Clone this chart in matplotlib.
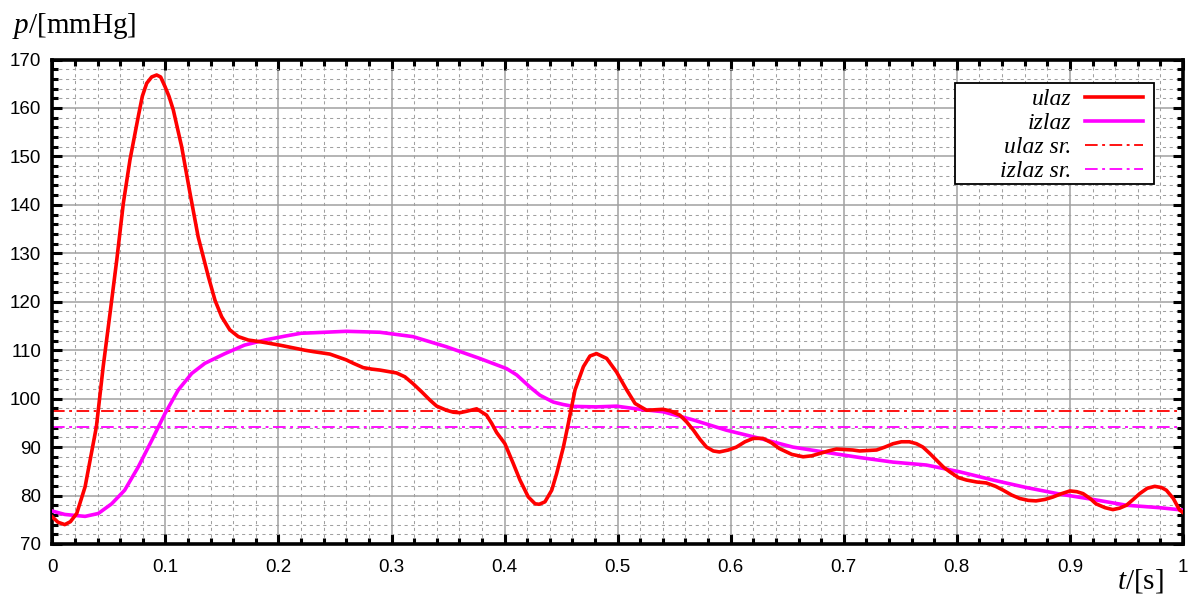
import matplotlib
matplotlib.use("Agg")
import matplotlib.pyplot as plt
from matplotlib.ticker import MultipleLocator, FixedLocator
from matplotlib.font_manager import FontProperties
from matplotlib.patches import Rectangle

# ---- data ----
t_ulaz = [0.000, 0.005, 0.011, 0.016, 0.0216, 0.029, 0.039, 0.045, 0.051, 0.057,
          0.0628, 0.0687, 0.076, 0.0796, 0.0835, 0.0879, 0.0923, 0.0958, 0.0997, 0.1032,
          0.107, 0.1144, 0.1218, 0.129, 0.138, 0.1439, 0.1498, 0.157, 0.1645, 0.1733,
          0.185, 0.201, 0.2234, 0.231, 0.2455, 0.26, 0.2662, 0.275, 0.2825, 0.2897,
          0.3045, 0.3119, 0.319, 0.3267, 0.334, 0.34, 0.3487, 0.3547, 0.3605, 0.3665,
          0.3753, 0.384, 0.3886, 0.393, 0.4003, 0.4077, 0.4136, 0.421, 0.427, 0.4306,
          0.4357, 0.4417, 0.446, 0.452, 0.4564, 0.4623, 0.4697, 0.4755, 0.4813, 0.4903,
          0.499, 0.508, 0.5154, 0.5257, 0.54, 0.5463, 0.555, 0.561, 0.567, 0.5728,
          0.5786, 0.5846, 0.59, 0.5979, 0.605, 0.6126, 0.62, 0.6284, 0.636, 0.643,
          0.654, 0.664, 0.6716, 0.6788, 0.6863, 0.6935, 0.708, 0.714, 0.729, 0.7363,
          0.7436, 0.751, 0.758, 0.7643, 0.77, 0.776, 0.782, 0.788, 0.7937, 0.8014,
          0.8085, 0.8175, 0.826, 0.8343, 0.841, 0.8485, 0.8556, 0.8632, 0.870, 0.878,
          0.885, 0.8927, 0.9, 0.906, 0.9116, 0.9178, 0.923, 0.931, 0.938, 0.944,
          0.95, 0.956, 0.9617, 0.9684, 0.975, 0.981, 0.9853, 0.9914, 0.997, 1.0]
p_ulaz = [75.6, 74.5, 74.0, 74.6, 76.3, 81.8, 94.2, 106.6, 117.5, 128.6,
          140.3, 149.3, 158.2, 162.4, 165.1, 166.4, 166.8, 166.4, 164.4, 162.4,
          159.6, 152.0, 142.4, 133.4, 125.2, 120.3, 116.9, 114.2, 112.8, 112.1,
          111.7, 111.05, 110.0, 109.7, 109.2, 108.0, 107.3, 106.4, 106.1, 105.9,
          105.3, 104.5, 103.1, 101.4, 99.7, 98.45, 97.6, 97.2, 97.1, 97.4,
          97.9, 96.6, 94.9, 93.0, 90.7, 86.6, 83.2, 79.7, 78.3, 78.2,
          78.7, 81.1, 84.5, 90.0, 94.9, 101.8, 106.6, 108.8, 109.3, 108.3,
          105.5, 101.8, 99.0, 97.6, 97.8, 97.5, 96.6, 95.2, 93.5, 91.6,
          90.0, 89.2, 89.0, 89.4, 90.0, 91.1, 91.8, 91.8, 90.9, 89.7,
          88.5, 88.0, 88.2, 88.7, 89.2, 89.6, 89.4, 89.2, 89.4, 90.0,
          90.7, 91.1, 91.1, 90.7, 90.0, 88.7, 87.3, 85.9, 84.9, 83.7,
          83.2, 82.8, 82.6, 81.9, 81.1, 80.1, 79.4, 79.0, 78.9, 79.2,
          79.7, 80.4, 80.95, 80.8, 80.4, 79.4, 78.3, 77.5, 77.1, 77.4,
          78.0, 79.2, 80.4, 81.5, 81.9, 81.65, 81.1, 79.4, 77.0, 76.5]

t_izlaz = [0.0, 0.011, 0.029, 0.0407, 0.0525, 0.064, 0.076, 0.088, 0.0996, 0.1114,
           0.1233, 0.135, 0.1527, 0.170, 0.188, 0.2057, 0.22, 0.231, 0.26, 0.2897,
           0.319, 0.3487, 0.378, 0.4018, 0.4107, 0.4224, 0.4313, 0.443, 0.4516, 0.4607,
           0.481, 0.499, 0.5196, 0.54, 0.567, 0.596, 0.6257, 0.655, 0.6847, 0.714,
           0.7436, 0.773, 0.8025, 0.832, 0.8615, 0.891, 0.9204, 0.95, 0.979, 1.0]
p_izlaz = [76.8, 76.1, 75.7, 76.3, 78.3, 81.1, 85.9, 91.4, 96.9, 101.8,
           105.2, 107.3, 109.3, 111.05, 112.1, 112.9, 113.5, 113.6, 113.9, 113.7,
           112.8, 110.7, 108.3, 106.2, 104.9, 102.4, 100.7, 99.3, 98.8, 98.4,
           98.3, 98.45, 97.8, 97.3, 95.6, 93.5, 91.8, 90.0, 88.9, 87.85,
           86.9, 86.3, 84.9, 83.2, 81.65, 80.3, 79.2, 78.0, 77.5, 77.0]

ulaz_sr = 97.4
izlaz_sr = 94.25

labels = ["ulaz", "izlaz", "ulaz sr.", "izlaz sr."]
x_ticks = [0, 0.1, 0.2, 0.3, 0.4, 0.5, 0.6, 0.7, 0.8, 0.9, 1]
x_ticklabels = ["0", "0.1", "0.2", "0.3", "0.4", "0.5", "0.6", "0.7", "0.8", "0.9", "1"]
y_ticks = [70, 80, 90, 100, 110, 120, 130, 140, 150, 160, 170]

# ---- style ----
plt.rcParams['mathtext.fontset'] = 'custom'
plt.rcParams['mathtext.rm'] = 'Liberation Serif'
plt.rcParams['mathtext.it'] = 'Liberation Serif:italic'
plt.rcParams['font.family'] = ['Liberation Sans', 'DejaVu Sans']

fig = plt.figure(figsize=(11.96, 5.97), dpi=100)
ax = fig.add_axes([52.3 / 1196, 1 - 544 / 597, (1183 - 52.3) / 1196, (544 - 59.5) / 597])

ax.set_xlim(0, 1)
ax.set_ylim(70, 170)

ax.xaxis.set_major_locator(FixedLocator(x_ticks))
ax.set_xticklabels(x_ticklabels)
ax.yaxis.set_major_locator(FixedLocator(y_ticks))
ax.xaxis.set_minor_locator(MultipleLocator(0.02))
ax.yaxis.set_minor_locator(MultipleLocator(2))

ax.grid(which='major', color='#a0a0a0', linewidth=1.1, linestyle='-', zorder=0)
ax.grid(which='minor', color='#a0a0a0', linewidth=0.75, linestyle=(0, (3, 3.5)), zorder=0)
ax.set_axisbelow(True)

ax.tick_params(which='both', direction='in', top=True, right=True, width=2.2, colors='black',
               labelsize=13.5)
ax.tick_params(which='major', length=7)
ax.tick_params(which='minor', length=4)
ax.tick_params(axis='x', pad=11)
ax.tick_params(axis='y', pad=8)
for s in ax.spines.values():
    s.set_linewidth(2.6)

red = '#ff0000'
mag = '#ff00ff'
ax.plot(t_ulaz, p_ulaz, color=red, linewidth=2.6, label=labels[0], zorder=4,
        solid_joinstyle='round')
ax.plot(t_izlaz, p_izlaz, color=mag, linewidth=2.6, label=labels[1], zorder=3,
        solid_joinstyle='round')
ax.axhline(ulaz_sr, color=red, linewidth=1.3, linestyle=(0, (7, 2.5, 1.6, 2.5)), label=labels[2], zorder=2)
ax.axhline(izlaz_sr, color=mag, linewidth=1.3, linestyle=(0, (7, 2.5, 1.6, 2.5)), label=labels[3], zorder=2)

# legend box (gnuplot style: wide frame, right-aligned labels)
box = Rectangle((0.7984, 0.743), 0.9744 - 0.7984, 0.9521 - 0.743, transform=ax.transAxes,
                facecolor='white', edgecolor='black', linewidth=1.3, zorder=8)
ax.add_patch(box)
leg = ax.legend(loc='upper right', bbox_to_anchor=(0.9644, 0.940), borderaxespad=0,
                markerfirst=False, frameon=False,
                prop=FontProperties(family='Liberation Serif', style='italic', size=17),
                handlelength=2.46, handletextpad=0.55, labelspacing=0.1, borderpad=0)
leg.set_zorder(9)

fig.text(12 / 1196, 1 - 26 / 597, r'$p/[\mathrm{mmHg}]$', fontsize=21, va='center', ha='left')
fig.text(1117 / 1196, 1 - 581 / 597, r'$t/[\mathrm{s}]$', fontsize=21, va='center', ha='left')

fig.savefig('out.png', dpi=100)
